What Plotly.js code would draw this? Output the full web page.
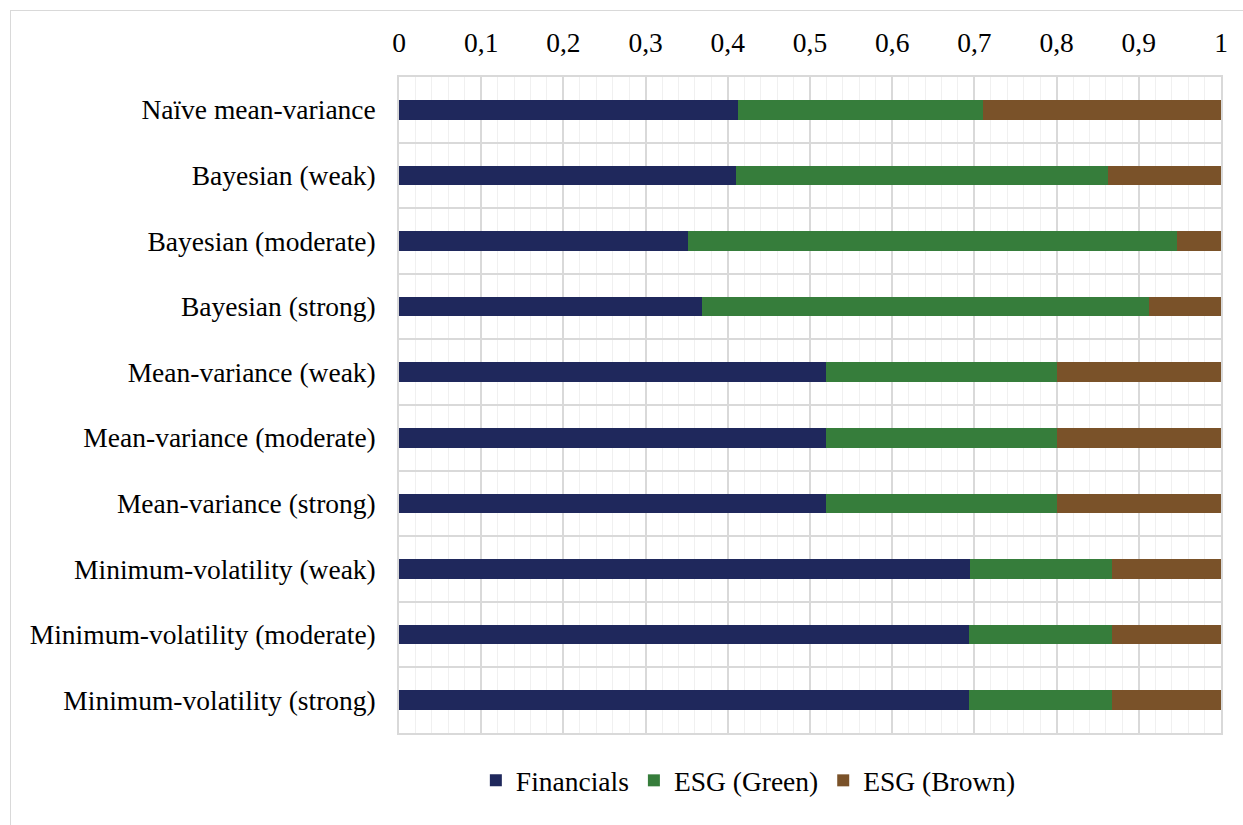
<!DOCTYPE html>
<html>
<head>
<meta charset="utf-8">
<script src="https://cdn.plot.ly/plotly-3.0.1.min.js"></script>
<style>
  html, body { margin: 0; padding: 0; background: #fff; }
  #chart { width: 1243px; height: 825px; }
  #frame { position: absolute; left: 10px; top: 10px; width: 1240px; height: 820px; border: 1px solid #d9d9d9; pointer-events: none; }
  #chart .legendtext { font-family: 'Liberation Serif', 'Times New Roman', serif !important; }
</style>
</head>
<body>
<div id="chart"></div>
<div id="frame"></div>
<script>
const categories = [
  "Naïve mean-variance",
  "Bayesian (weak)",
  "Bayesian (moderate)",
  "Bayesian (strong)",
  "Mean-variance (weak)",
  "Mean-variance (moderate)",
  "Mean-variance (strong)",
  "Minimum-volatility (weak)",
  "Minimum-volatility (moderate)",
  "Minimum-volatility (strong)"
];
const financials = [0.412, 0.410, 0.351, 0.369, 0.520, 0.520, 0.520, 0.695, 0.693, 0.693];
const esgGreen   = [0.299, 0.453, 0.595, 0.544, 0.280, 0.280, 0.280, 0.172, 0.174, 0.174];
const esgBrown   = [0.289, 0.137, 0.054, 0.087, 0.200, 0.200, 0.200, 0.133, 0.133, 0.133];
const seriesNames = ["Financials", "ESG (Green)", "ESG (Brown)"];
const seriesColors = ["#1F285C", "#367D3B", "#7A5229"];

const values = [financials, esgGreen, esgBrown];
const traces = values.map((v, i) => ({
  type: "bar",
  orientation: "h",
  name: seriesNames[i],
  x: v,
  y: categories,
  marker: { color: seriesColors[i], line: { width: 0 } },
  hoverinfo: "x+y+name"
}));

const FAMILY = "Liberation Serif";
function mkFont(size) { return { family: FAMILY, size: size, color: "#000" }; }

const layout = {
  width: 1243,
  height: 825,
  margin: { l: 399, r: 22, t: 77, b: 92 },
  barmode: "stack",
  bargap: 0.7,
  separators: ", ",
  font: mkFont(27.5),
  paper_bgcolor: "#fff",
  plot_bgcolor: "#fff",
  showlegend: true,
  legend: {
    orientation: "h",
    x: 0.425, xanchor: "center",
    y: -0.035, yanchor: "top",
    font: mkFont(27.5),
    traceorder: "normal",
    itemwidth: 30
  },
  xaxis: {
    side: "top",
    range: [0, 1],
    dtick: 0.1,
    tick0: 0,
    ticks: "",
    showgrid: true,
    gridcolor: "#d9d9d9",
    gridwidth: 1.5,
    minor: { dtick: 0.02, showgrid: true, gridcolor: "#f0f0f0", gridwidth: 1 },
    showline: true, mirror: true, linecolor: "#d9d9d9", linewidth: 1.5,
    zeroline: false,
    tickfont: mkFont(27.5),
    ticklabelstandoff: 12,
    fixedrange: true
  },
  yaxis: {
    type: "category",
    autorange: "reversed",
    tickson: "boundaries",
    ticks: "",
    showgrid: true,
    gridcolor: "#d9d9d9",
    gridwidth: 1.5,
    showline: true, mirror: true, linecolor: "#d9d9d9", linewidth: 1.5,
    tickfont: mkFont(27.5),
    ticklabelstandoff: 16,
    fixedrange: true
  }
};

Plotly.newPlot("chart", traces, layout, { displayModeBar: false });
</script>
</body>
</html>
